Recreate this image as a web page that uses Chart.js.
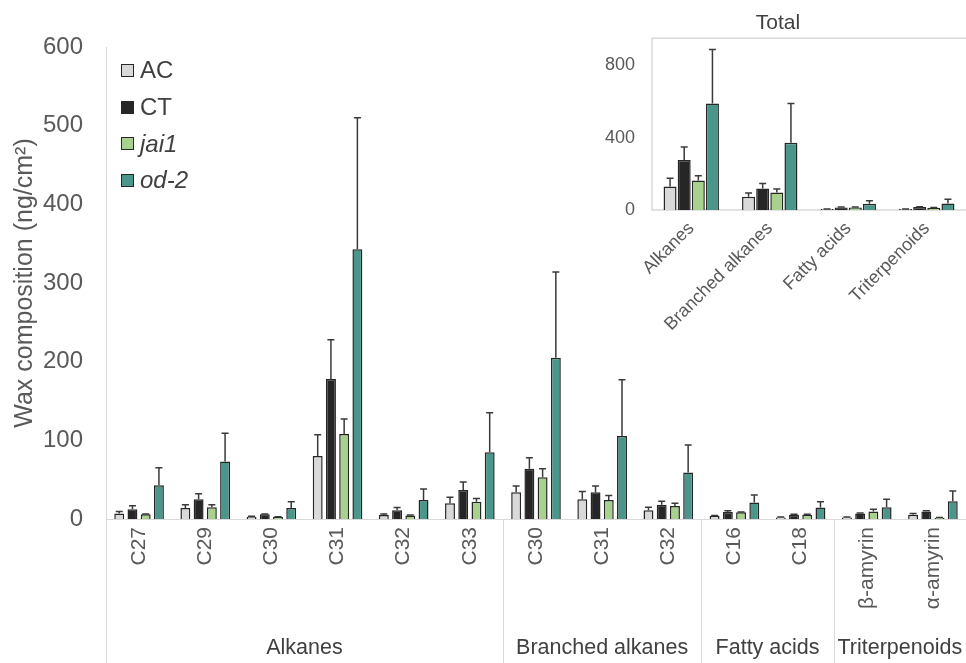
<!DOCTYPE html>
<html>
<head>
<meta charset="utf-8">
<script src="https://cdn.jsdelivr.net/npm/chart.js@4.4.1/dist/chart.umd.min.js"></script>
<style>
  html, body { margin: 0; padding: 0; background: #fff; }
  body { width: 966px; height: 663px; position: relative; overflow: hidden; font-family: "Liberation Sans", Arial, sans-serif; }
  #main-wrap { position: absolute; left: 0; top: 0; width: 966px; height: 663px; }
  #inset-wrap { position: absolute; left: 590px; top: 0; width: 376px; height: 335px; }
  #legend { position: absolute; left: 121px; top: 52px; color: #404040; font-size: 24px; }
  #legend .item { display: flex; align-items: center; height: 36.7px; }
  #legend .box { width: 11px; height: 11px; border: 1.5px solid #262626; margin-right: 6px; }
  #legend .italic { font-style: italic; }
</style>
</head>
<body>
<div id="main-wrap"><canvas id="main-chart" width="966" height="663"></canvas></div>
<div id="inset-wrap"><canvas id="inset-chart" width="376" height="335"></canvas></div>
<div id="legend"></div>
<script>
// ---- data ----
const compounds = ["C27", "C29", "C30", "C31", "C32", "C33", "C30", "C31", "C32", "C16", "C18", "β-amyrin", "α-amyrin"];
const groupNames = ["Alkanes", "Branched alkanes", "Fatty acids", "Triterpenoids"];
const groupSizes = [6, 3, 2, 2];

const seriesNames = ["AC", "CT", "jai1", "od-2"];
const seriesItalic = [false, false, true, true];

const acValues   = [7, 14, 3, 80, 5, 20, 34, 25, 11, 4, 2, 2, 5.5];
const acErr      = [9.5, 18, 3.5, 107, 6.5, 27.5, 42, 35, 15, 4.5, 2.5, 2.5, 7];
const ctValues   = [12.5, 25, 6, 178, 11, 37, 64, 34, 18, 9, 5.5, 7, 9.5];
const ctErr      = [17, 32, 6.5, 228, 14.5, 47, 78, 42, 22.5, 10.5, 6, 7.5, 10.5];
const jaiValues  = [6, 15, 2.5, 108, 4.5, 22, 53, 24, 16.5, 8.5, 5.5, 9.5, 1.7];
const jaiErr     = [6.5, 18, 3, 127, 5, 26, 64, 30, 20, 9, 6, 12.5, 2];
const odValues   = [43, 73, 14, 343, 24, 85, 205, 105.5, 59, 21, 14.5, 15, 22.5];
const odErr      = [65, 109, 22, 510, 38, 135, 314, 177, 94, 30.5, 22, 25, 35.5];

const totalCats = ["Alkanes", "Branched alkanes", "Fatty acids", "Triterpenoids"];
const totalTicks = [0, 400, 800];
const totalAc   = [130, 73, 5, 5];
const totalAcErr  = [176, 94, 6, 6];
const totalCt   = [277, 119, 14, 16];
const totalCtErr  = [348, 146, 16, 18];
const totalJai  = [163, 97, 14, 12];
const totalJaiErr = [190, 116, 16, 14];
const totalOd   = [589, 372, 34, 36];
const totalOdErr  = [888, 589, 51, 60];

const colors = ["#d9d9d9", "#262626", "#a9d18e", "#4a968a"];
const textColor = "#595959";
const lineColor = "#d9d9d9";
const FONT = "'Liberation Sans', Arial, sans-serif";

// ---- legend (html) ----
const legendEl = document.getElementById("legend");
seriesNames.forEach((name, i) => {
  const item = document.createElement("div");
  item.className = "item";
  const box = document.createElement("span");
  box.className = "box";
  box.style.background = colors[i];
  const label = document.createElement("span");
  label.textContent = name;
  if (seriesItalic[i]) label.className = "italic";
  item.append(box, label);
  legendEl.appendChild(item);
});

function makeDatasets(valueArrays, errArrays) {
  return valueArrays.map((vals, i) => ({
    label: seriesNames[i],
    data: vals,
    errTop: errArrays[i],
    backgroundColor: colors[i],
    borderColor: "#262626",
    borderWidth: 1.5,
  }));
}

// upper error bars, drawn from the y scale
const errorBars = {
  id: "errorBars",
  afterDatasetsDraw(chart, args, opts) {
    const { ctx } = chart;
    const y = chart.scales.y;
    ctx.save();
    ctx.strokeStyle = "#3a3a3a";
    ctx.lineWidth = 1.5;
    chart.data.datasets.forEach((ds, di) => {
      const meta = chart.getDatasetMeta(di);
      meta.data.forEach((bar, i) => {
        const top = ds.errTop[i];
        if (top == null || top <= ds.data[i]) return;
        const yTop = y.getPixelForValue(top);
        const yBar = y.getPixelForValue(ds.data[i]);
        ctx.beginPath();
        ctx.moveTo(bar.x, yBar);
        ctx.lineTo(bar.x, yTop);
        ctx.moveTo(bar.x - opts.cap, yTop);
        ctx.lineTo(bar.x + opts.cap, yTop);
        ctx.stroke();
      });
    });
    ctx.restore();
  },
};

// group separators and group labels under the main x axis
const groupAxis = {
  id: "groupAxis",
  afterDraw(chart) {
    const { ctx, chartArea } = chart;
    const x = chart.scales.x;
    const bottom = chart.height;
    const half = (x.getPixelForValue(1) - x.getPixelForValue(0)) / 2;
    ctx.save();
    ctx.strokeStyle = lineColor;
    ctx.lineWidth = 1;
    // left axis line runs full height
    ctx.beginPath();
    ctx.moveTo(chartArea.left + 0.5, chartArea.top);
    ctx.lineTo(chartArea.left + 0.5, bottom);
    ctx.stroke();
    ctx.fillStyle = "#404040";
    ctx.font = "21.5px " + FONT;
    ctx.textAlign = "center";
    ctx.textBaseline = "middle";
    let start = 0;
    groupSizes.forEach((size, g) => {
      const left = x.getPixelForValue(start) - half;
      const right = x.getPixelForValue(start + size - 1) + half;
      if (g < groupSizes.length - 1) {
        ctx.beginPath();
        ctx.moveTo(Math.round(right) + 0.5, chartArea.bottom);
        ctx.lineTo(Math.round(right) + 0.5, bottom);
        ctx.stroke();
      }
      ctx.fillText(groupNames[g], (left + right) / 2, 648);
      start += size;
    });
    ctx.restore();
  },
};

const mainChart = new Chart(document.getElementById("main-chart"), {
  type: "bar",
  data: {
    labels: compounds,
    datasets: makeDatasets([acValues, ctValues, jaiValues, odValues], [acErr, ctErr, jaiErr, odErr]),
  },
  plugins: [errorBars, groupAxis],
  options: {
    responsive: false,
    animation: false,
    categoryPercentage: 0.8,
    barPercentage: 0.75,
    layout: { padding: { top: 47, right: 0, left: 0, bottom: 0 } },
    plugins: {
      legend: { display: false },
      tooltip: { enabled: false },
      errorBars: { cap: 3.5 },
    },
    scales: {
      x: {
        grid: { display: false },
        border: { color: lineColor, width: 1 },
        ticks: {
          color: textColor,
          font: { size: 21, family: FONT },
          minRotation: 90,
          maxRotation: 90,
          padding: 0,
          autoSkip: false,
        },
        afterFit: (s) => { s.height = 144; },
      },
      y: {
        min: 0,
        max: 600,
        grid: { display: false },
        border: { display: false },
        ticks: {
          stepSize: 100,
          color: textColor,
          font: { size: 24, family: FONT },
          padding: 15,
        },
        title: {
          display: true,
          text: "Wax composition (ng/cm²)",
          color: textColor,
          font: { size: 25, family: FONT },
          padding: { top: 10, bottom: 0 },
        },
        afterFit: (s) => { s.width = 106; },
      },
    },
  },
});

// inset plot-area frame
const frame = {
  id: "frame",
  beforeDatasetsDraw(chart) {
    const { ctx, chartArea } = chart;
    ctx.save();
    ctx.strokeStyle = lineColor;
    ctx.lineWidth = 1.5;
    ctx.strokeRect(chartArea.left, chartArea.top, chartArea.right - chartArea.left + 2, chartArea.bottom - chartArea.top);
    ctx.restore();
  },
};

const insetChart = new Chart(document.getElementById("inset-chart"), {
  type: "bar",
  data: {
    labels: totalCats,
    datasets: makeDatasets([totalAc, totalCt, totalJai, totalOd], [totalAcErr, totalCtErr, totalJaiErr, totalOdErr]),
  },
  plugins: [frame, errorBars],
  options: {
    responsive: false,
    animation: false,
    categoryPercentage: 0.72,
    barPercentage: 0.92,
    layout: { padding: { top: 0, right: 0, left: 0, bottom: 0 } },
    plugins: {
      legend: { display: false },
      tooltip: { enabled: false },
      errorBars: { cap: 3.5 },
      title: {
        display: true,
        text: "Total",
        color: "#404040",
        font: { size: 21, family: FONT, weight: "normal" },
        padding: { top: 11, bottom: 2 },
      },
    },
    scales: {
      x: {
        grid: { display: false },
        border: { display: false },
        ticks: {
          color: textColor,
          font: { size: 18, family: FONT },
          minRotation: 45,
          maxRotation: 45,
          padding: 0,
          autoSkip: false,
        },
        afterFit: (s) => { s.height = 125; },
      },
      y: {
        min: 0,
        max: 950,
        grid: { display: false },
        border: { display: false },
        ticks: {
          color: textColor,
          font: { size: 18, family: FONT },
          padding: 9,
        },
        // fixed tick marks 0 / 400 / 800
        afterBuildTicks: (s) => { s.ticks = totalTicks.map((v) => ({ value: v })); },
        afterFit: (s) => { s.width = 62; },
      },
    },
  },
});
</script>
</body>
</html>
